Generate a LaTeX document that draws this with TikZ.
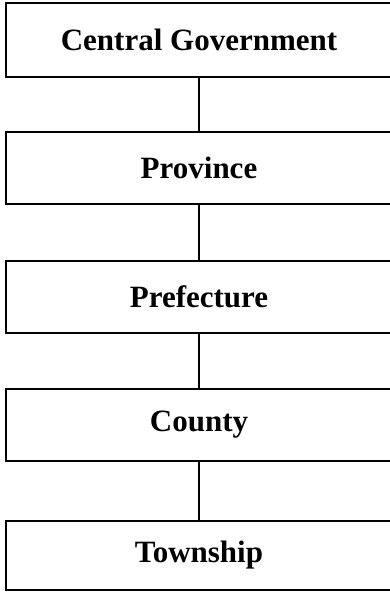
\documentclass[tikz,border=0pt]{standalone}
\usepackage{fontspec}
\setmainfont{Liberation Serif}
\tikzset{
	level/.style={draw, line width=1.2pt, minimum width=386pt, minimum height=72pt, inner sep=0pt, font=\fontsize{31}{36}\selectfont\bfseries},
	link/.style={line width=1.2pt}
}

\begin{document}
\begin{tikzpicture}[x=1pt, y=1pt]
		%%%%% START %%%%%
		\useasboundingbox (0, 0) rectangle (390, -592);
		\clip (0, 0) rectangle (390, -592);
		
		\node[level, minimum height=74pt] (central) at (199, -40) {Central Government};
		\node[level] (province) at (199, -168) {Province};
		\node[level] (prefecture) at (199, -297) {Prefecture};
		\node[level] (county) at (199, -425) {County};
		\node[level, minimum height=69pt] (township) at (199, -555.5) {Township};
		
		\draw[link] (central) -- (province);
		\draw[link] (province) -- (prefecture);
		\draw[link] (prefecture) -- (county);
		\draw[link] (county) -- (township);
		%%%%% END %%%%%
	\end{tikzpicture}
\end{document}
